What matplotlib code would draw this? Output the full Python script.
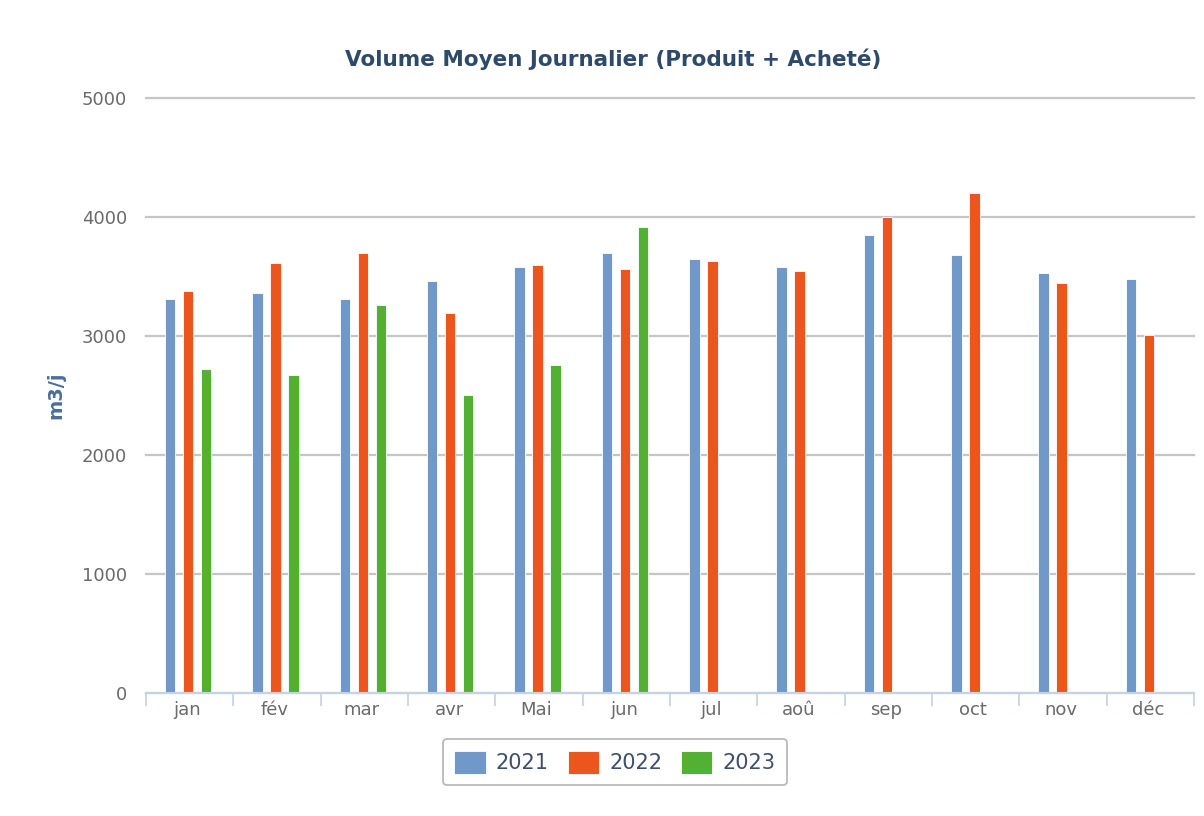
import numpy as np
import matplotlib
matplotlib.use('Agg')
from matplotlib import pyplot as plt
from matplotlib.patches import FancyBboxPatch
from matplotlib.legend_handler import HandlerPatch


months = ['jan', 'fév', 'mar', 'avr', 'Mai', 'jun',
          'jul', 'aoû', 'sep', 'oct', 'nov', 'déc']
years = ['2021', '2022', '2023']
vol_2021 = [3308, 3359, 3308, 3460, 3577, 3695, 3645, 3577, 3846, 3678, 3527, 3476]
vol_2022 = [3376, 3611, 3695, 3191, 3594, 3560, 3628, 3544, 3997, 4199, 3443, 3006]
vol_2023 = [2720, 2670, 3258, 2502, 2754, 3913]

colors = ['#7098c8', '#ec561d', '#52b133']
grid_col = '#c6c6c6'
axis_col = '#c4d2e2'
tick_col = '#6a6a6a'


def rounded_box(legend, orig_handle, xdescent, ydescent, width, height, fontsize):
    return FancyBboxPatch((-xdescent, -ydescent), width, height,
                          boxstyle='round,pad=0,rounding_size=4')


fig = plt.figure(figsize=(12.04, 8.16), dpi=100, facecolor='w')
ax = fig.add_axes([0.1213, 0.1507, 0.8705, 0.7293])

x = np.arange(len(months))
w = 0.12
off = 0.206
shift = -0.017
series = [vol_2021, vol_2022, vol_2023]
for i, vals in enumerate(series):
    xs = x[:len(vals)] + (i - 1) * off + shift
    ax.bar(xs, vals, width=w, color=colors[i], edgecolor='white',
           linewidth=0.6, zorder=3, label=years[i])

ax.set_xlim(-0.5, 11.5)
ax.set_ylim(0, 5000)
ax.set_yticks(np.arange(0, 5001, 1000))
ax.yaxis.grid(True, color=grid_col, linewidth=1.6, zorder=0)
for gl in ax.get_ygridlines():
    gl.set_clip_on(False)
ax.set_axisbelow(True)

for s in ['top', 'right', 'left']:
    ax.spines[s].set_visible(False)
ax.spines['bottom'].set_color(axis_col)
ax.spines['bottom'].set_linewidth(1.5)
ax.spines['bottom'].set_zorder(4)

# category labels in the middle, ticks on boundaries
ax.set_xticks(x - 0.03)
ax.set_xticklabels(months, fontsize=13, color=tick_col)
ax.tick_params(axis='x', length=0, pad=6)
ax.set_xticks(np.arange(-0.5, 12, 1), minor=True)
ax.tick_params(axis='x', which='minor', length=9, width=1.2, color=axis_col)
ax.tick_params(axis='y', length=0, labelsize=13, labelcolor=tick_col, pad=13.5)

ax.set_ylabel('m3/j', fontsize=14, fontweight='bold', color='#4b6d9a', labelpad=12)
fig.text(0.509, 0.928, 'Volume Moyen Journalier (Produit + Acheté)',
         ha='center', va='center', fontsize=15.5, fontweight='bold', color='#2e4a6b')

# legend below the axes
leg = ax.legend(loc='upper center', bbox_to_anchor=(0.4475, -0.06), ncol=3,
                fontsize=15, frameon=True, handlelength=1.5, handleheight=1.35,
                handletextpad=0.5, columnspacing=0.9, borderpad=0.55, fancybox=True,
                handler_map={matplotlib.patches.Rectangle: HandlerPatch(patch_func=rounded_box)})
leg.get_frame().set_edgecolor('#a9a9a9')
leg.get_frame().set_linewidth(1.3)
for t in leg.get_texts():
    t.set_color('#3d4f6b')

fig.savefig('out.png', dpi=100, facecolor='w')
